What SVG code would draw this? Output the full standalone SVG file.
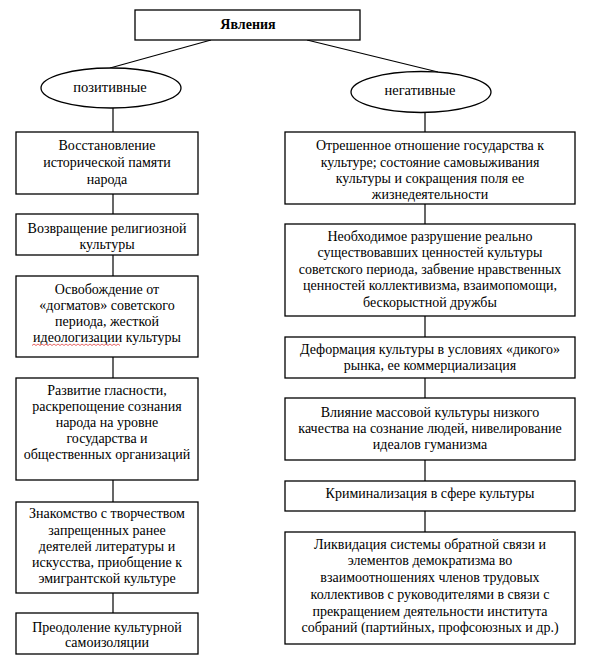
<svg xmlns="http://www.w3.org/2000/svg" width="594" height="664" viewBox="0 0 594 664">
<style>
.box{fill:#fff;stroke:#000;stroke-width:1.3}
.ln{stroke:#000;stroke-width:1.2;fill:none}
</style>
<rect width="594" height="664" fill="#fff"/>
<g id="connectors">
<line class="ln" x1="211" y1="40" x2="110" y2="68"/>
<line class="ln" x1="307" y1="40" x2="438" y2="72"/>
<line class="ln" x1="113" y1="108" x2="113" y2="614"/>
<line class="ln" x1="425" y1="112" x2="425" y2="532"/>
</g>
<g font-family="'Liberation Serif', serif" font-size="14" text-anchor="middle" fill="#000">
<g id="root"><rect class="box" x="135" y="10" width="225" height="30"/><text x="248" y="29" font-weight="bold">Явления</text></g>
<g id="pos"><ellipse class="box" cx="111" cy="88" rx="70" ry="20"/><text x="110" y="92" font-size="14.5">позитивные</text></g>
<g id="neg"><ellipse class="box" cx="421" cy="92" rx="70" ry="20.5"/><text x="420" y="95" font-size="14.5">негативные</text></g>

<g id="p1"><rect class="box" x="16" y="132" width="182" height="62"/>
<text x="107" y="150">Восстановление</text><text x="107" y="167">исторической памяти</text><text x="107" y="184">народа</text></g>
<g id="p2"><rect class="box" x="16" y="214" width="182" height="41"/>
<text x="107" y="233">Возвращение религиозной</text><text x="107" y="249">культуры</text></g>
<g id="p3"><rect class="box" x="16" y="276" width="182" height="81"/>
<text x="107" y="294">Освобождение от</text><text x="107" y="310">«догматов» советского</text><text x="107" y="326">периода, жесткой</text><text x="107" y="342">идеологизации культуры</text>
<path d="M32 345.5 l2 -1.5 l2 1.5 l2 -1.5 l2 1.5 l2 -1.5 l2 1.5 l2 -1.5 l2 1.5 l2 -1.5 l2 1.5 l2 -1.5 l2 1.5 l2 -1.5 l2 1.5 l2 -1.5 l2 1.5 l2 -1.5 l2 1.5 l2 -1.5 l2 1.5 l2 -1.5 l2 1.5 l2 -1.5 l2 1.5 l2 -1.5 l2 1.5 l2 -1.5 l2 1.5 l2 -1.5 l2 1.5 l2 -1.5 l2 1.5 l2 -1.5 l2 1.5 l2 -1.5 l2 1.5 l2 -1.5 l2 1.5 l2 -1.5 l2 1.5 l2 -1.5 l2 1.5 l2 -1.5 l2 1.5" fill="none" stroke="#e04040" stroke-width="0.8"/></g>
<g id="p4"><rect class="box" x="16" y="378" width="182" height="102"/>
<text x="107" y="395">Развитие гласности,</text><text x="107" y="411">раскрепощение сознания</text><text x="107" y="427">народа на уровне</text><text x="107" y="443">государства и</text><text x="107" y="459">общественных организаций</text></g>
<g id="p5"><rect class="box" x="16" y="502" width="182" height="91"/>
<text x="107" y="518">Знакомство с творчеством</text><text x="107" y="535">запрещенных ранее</text><text x="107" y="551">деятелей литературы и</text><text x="107" y="567">искусства, приобщение к</text><text x="107" y="583">эмигрантской культуре</text></g>
<g id="p6"><rect class="box" x="16" y="613" width="182" height="41"/>
<text x="107" y="632">Преодоление культурной</text><text x="107" y="647">самоизоляции</text></g>

<g id="n1"><rect class="box" x="285" y="132" width="290" height="72"/>
<text x="430" y="150">Отрешенное отношение государства к</text><text x="430" y="167">культуре; состояние самовыживания</text><text x="430" y="183">культуры и сокращения поля ее</text><text x="430" y="199">жизнедеятельности</text></g>
<g id="n2"><rect class="box" x="285" y="224" width="290" height="92"/>
<text x="430" y="241">Необходимое разрушение реально</text><text x="430" y="257">существовавших ценностей культуры</text><text x="430" y="274">советского периода, забвение нравственных</text><text x="430" y="290">ценностей коллективизма, взаимопомощи,</text><text x="430" y="307">бескорыстной дружбы</text></g>
<g id="n3"><rect class="box" x="285" y="337" width="290" height="41"/>
<text x="430" y="354">Деформация культуры в условиях «дикого»</text><text x="430" y="370">рынка, ее коммерциализация</text></g>
<g id="n4"><rect class="box" x="285" y="398" width="290" height="62"/>
<text x="430" y="417">Влияние массовой культуры низкого</text><text x="430" y="433">качества на сознание людей, нивелирование</text><text x="430" y="449">идеалов гуманизма</text></g>
<g id="n5"><rect class="box" x="285" y="481" width="290" height="30"/>
<text x="430" y="498">Криминализация в сфере культуры</text></g>
<g id="n6"><rect class="box" x="285" y="532" width="290" height="112"/>
<text x="430" y="549">Ликвидация системы обратной связи и</text><text x="430" y="565">элементов демократизма во</text><text x="430" y="582">взаимоотношениях членов трудовых</text><text x="430" y="599">коллективов с руководителями в связи с</text><text x="430" y="616">прекращением деятельности института</text><text x="430" y="632">собраний (партийных, профсоюзных и др.)</text></g>
</g>
</svg>
